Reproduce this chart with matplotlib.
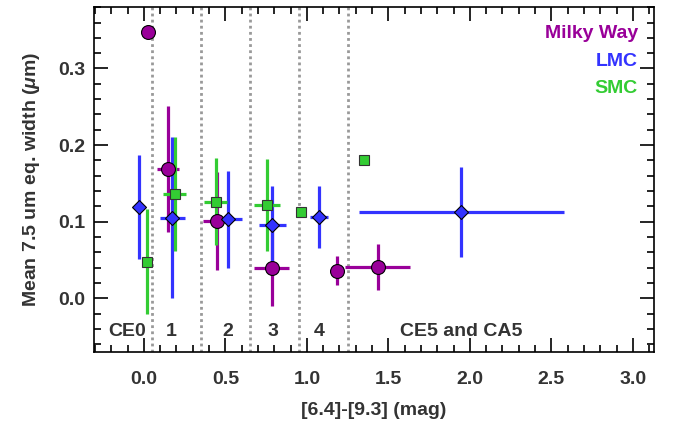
import matplotlib
matplotlib.use('Agg')
import matplotlib.pyplot as plt
from matplotlib.ticker import MultipleLocator

plt.rcParams['font.family'] = ['Liberation Sans', 'DejaVu Sans']
plt.rcParams['font.weight'] = 'bold'
plt.rcParams['mathtext.fontset'] = 'custom'
plt.rcParams['mathtext.it'] = 'Liberation Sans:italic:bold'

# Milky Way
mw_x = [0.025, 0.148, 0.451, 0.785, 1.183, 1.434]
mw_y = [0.348, 0.169, 0.101, 0.040, 0.036, 0.041]
mw_xerr = [0.0, 0.07, 0.09, 0.107, 0.0, 0.2]
mw_yerr = [0.0, 0.082, 0.064, 0.05, 0.019, 0.03]

# LMC
lmc_x = [-0.03, 0.174, 0.519, 0.789, 1.076, 1.947]
lmc_y = [0.119, 0.105, 0.103, 0.096, 0.106, 0.113]
lmc_xerr = [0.03, 0.078, 0.08, 0.082, 0.055, 0.63]
lmc_yerr = [0.068, 0.105, 0.063, 0.05, 0.04, 0.059]

# SMC
smc_x = [0.02, 0.19, 0.44, 0.758, 0.963, 1.352]
smc_y = [0.048, 0.136, 0.126, 0.122, 0.113, 0.180]
smc_xerr = [0.0, 0.07, 0.07, 0.08, 0.0, 0.0]
smc_yerr = [0.069, 0.074, 0.057, 0.06, 0.0, 0.0]

dividers = [0.05, 0.35, 0.65, 0.95, 1.25]
class_labels = ['CE0', '1', '2', '3', '4', 'CE5 and CA5']
class_x = [-0.1, 0.17, 0.516, 0.79, 1.076, 1.946]

purple = '#990099'
blue = '#3333ff'
green = '#33cc33'
text_col = '#333333'
fs = 14


def main():
  fig = plt.figure(figsize=(6.75, 4.24), dpi=100)
  ax = fig.add_axes([0.139, 0.170, 0.830, 0.813])

  for xv in dividers:
    ax.axvline(xv, color='#999999', lw=2, ls=(0, (1, 1.2)), zorder=1)

  ax.errorbar(mw_x, mw_y, xerr=mw_xerr, yerr=mw_yerr, fmt='o', color=purple,
              mfc=purple, mec='black', mew=0.8, ms=10, elinewidth=2.3,
              capsize=0, zorder=3)
  ax.errorbar(lmc_x, lmc_y, xerr=lmc_xerr, yerr=lmc_yerr, fmt='D', color=blue,
              mfc=blue, mec='black', mew=0.8, ms=7.5, elinewidth=2.3,
              capsize=0, zorder=3)
  ax.errorbar(smc_x, smc_y, xerr=smc_xerr, yerr=smc_yerr, fmt='s', color=green,
              mfc=green, mec='#333333', mew=0.8, ms=7.5, elinewidth=2.3,
              capsize=0, zorder=3)

  for lab, xv in zip(class_labels, class_x):
    ax.text(xv, -0.043, lab, ha='center', va='center', fontsize=fs,
            fontweight='bold', color=text_col)

  ax.text(0.971, 0.925, 'Milky Way', transform=ax.transAxes, ha='right',
          va='center', color=purple, fontsize=fs, fontweight='bold')
  ax.text(0.971, 0.843, 'LMC', transform=ax.transAxes, ha='right',
          va='center', color=blue, fontsize=fs, fontweight='bold')
  ax.text(0.971, 0.763, 'SMC', transform=ax.transAxes, ha='right',
          va='center', color=green, fontsize=fs, fontweight='bold')

  ax.set_xlim(-0.307, 3.13)
  ax.set_ylim(-0.07, 0.38)
  ax.xaxis.set_major_locator(MultipleLocator(0.5))
  ax.xaxis.set_minor_locator(MultipleLocator(0.1))
  ax.yaxis.set_major_locator(MultipleLocator(0.1))
  ax.yaxis.set_minor_locator(MultipleLocator(0.02))
  ax.xaxis.set_major_formatter(plt.FormatStrFormatter('%.1f'))
  ax.yaxis.set_major_formatter(plt.FormatStrFormatter('%.1f'))
  ax.tick_params(which='both', direction='in', top=True, right=True,
                 labelsize=fs, labelcolor=text_col, width=1.2)
  ax.tick_params(which='major', length=10)
  ax.tick_params(which='minor', length=5)
  ax.tick_params(axis='x', which='major', pad=14)
  ax.tick_params(axis='y', which='major', pad=6)
  for s in ax.spines.values():
    s.set_linewidth(1.2)

  ax.set_xlabel('[6.4]-[9.3] (mag)', fontsize=fs, fontweight='bold',
                color=text_col, labelpad=10)
  ax.set_ylabel(r'Mean 7.5 um eq. width ($\mu$m)', fontsize=fs,
                fontweight='bold', color=text_col, labelpad=12)

  fig.savefig('out.png', dpi=100)


if __name__ == '__main__':
  main()
